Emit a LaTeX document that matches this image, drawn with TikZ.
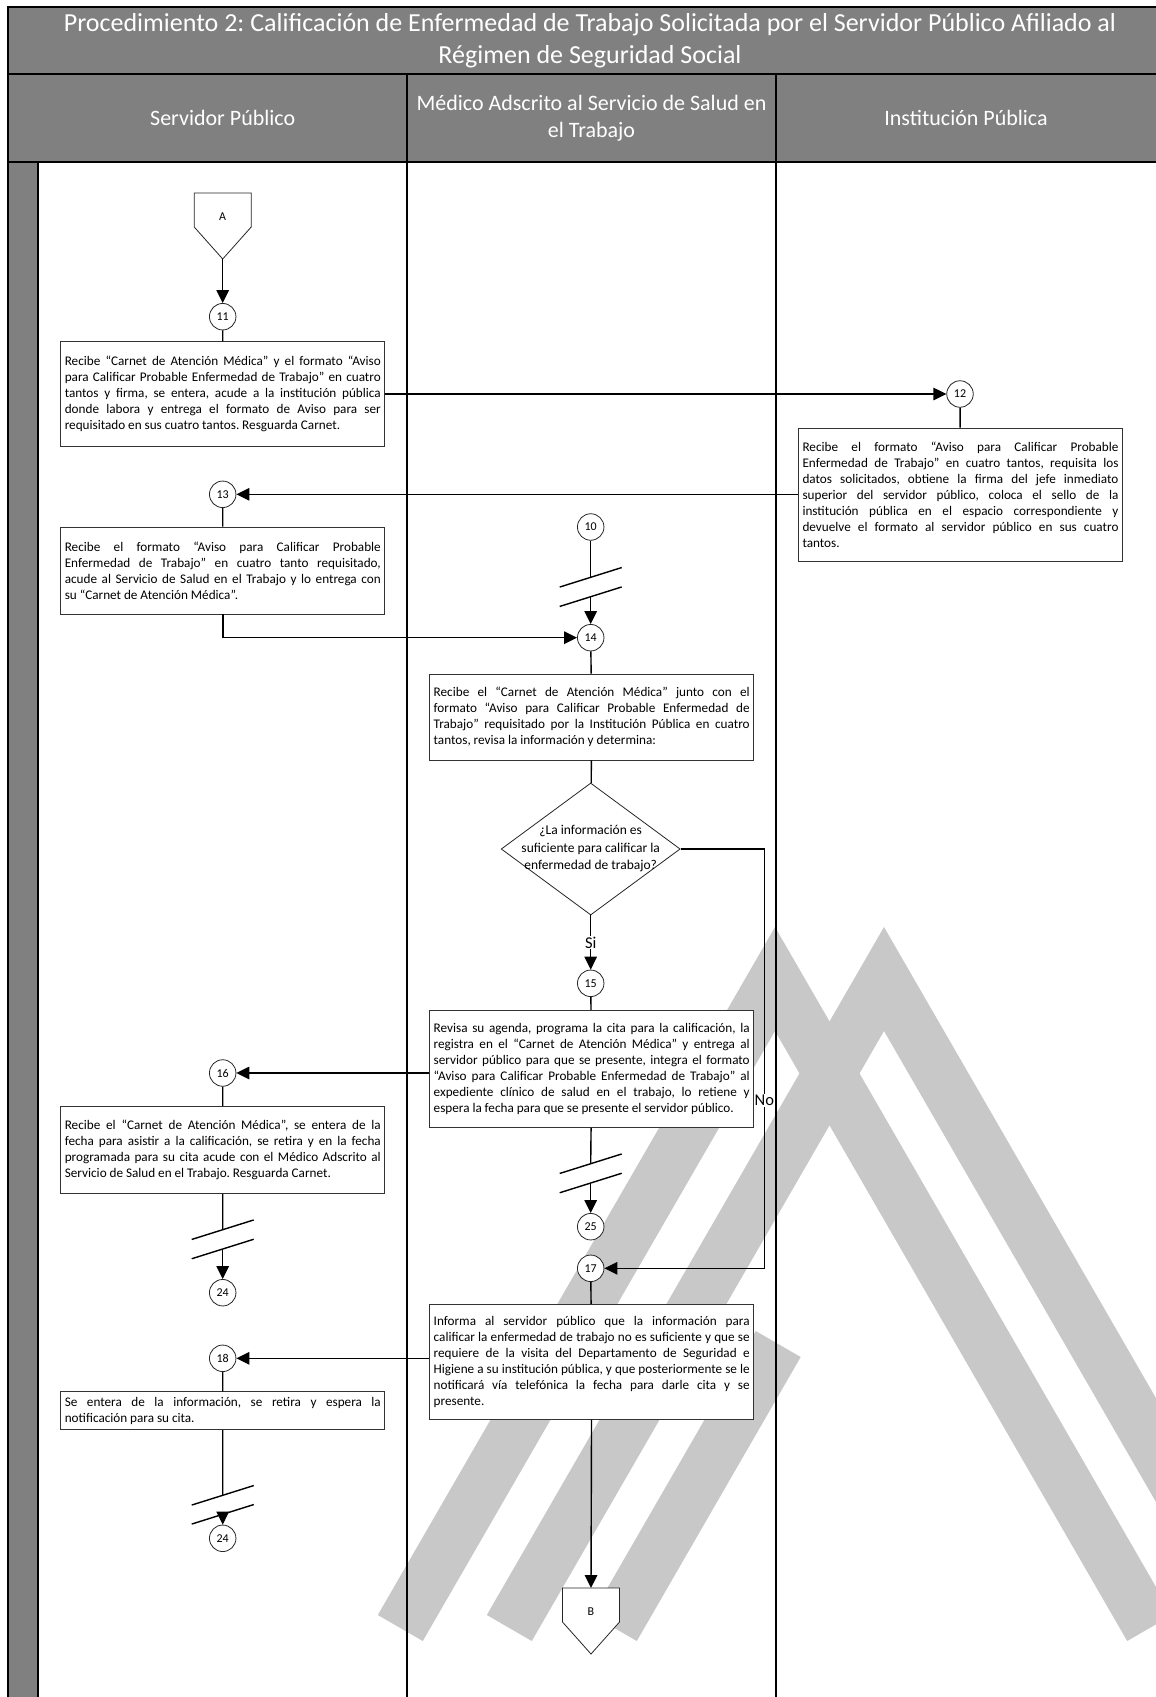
\documentclass[tikz,border=0pt]{standalone}
\usepackage{fontspec}
\setmainfont{Carlito}
\usetikzlibrary{arrows.meta,shapes.geometric,positioning}

\definecolor{lanegray}{RGB}{128,128,128}
\definecolor{markgray}{RGB}{200,200,200}

\hyphenpenalty=10000
\tolerance=10000
\frenchspacing

\tikzset{
  proc/.style={rectangle, draw=black!80, line width=0.8pt, fill=white, text width=316pt,
    inner xsep=4pt, inner ysep=3pt, font=\fontsize{13.2pt}{16pt}\selectfont,
    execute at begin node={\parindent=0pt\relax\leftskip=0pt\relax\rightskip=0pt\relax
      \parfillskip=0pt plus 1fil\relax\spaceskip=0.22em plus 0.5em minus 0.1em\relax}},
  conn/.style={circle, draw=black!85, line width=0.8pt, fill=white, minimum size=26.5pt,
    inner sep=0pt, font=\fontsize{12pt}{13pt}\selectfont},
  offpage/.style={draw=black!85, line width=0.8pt, fill=white},
  decision/.style={diamond, draw=black!85, line width=0.8pt, fill=white,
    minimum width=179pt, minimum height=132pt, inner sep=0pt},
  line/.style={line width=1.4pt},
  flow/.style={line width=1.4pt, -{Triangle[length=13pt,width=12.5pt]}},
  lane/.style={line width=2pt},
  answer/.style={fill=white, inner sep=1pt, font=\fontsize{16.5pt}{18pt}\selectfont},
  head/.style={white, align=center, font=\fontsize{22pt}{27pt}\selectfont},
}

\begin{document}
\begin{tikzpicture}[x=1pt, y=-1pt]
\useasboundingbox (0,0) rectangle (1156,1697);

% marca de agua
\fill[markgray] (775,927) -- (1172.2,1615) -- (1127.2,1641) -- (775,1031) -- (422.8,1641) -- (377.8,1615) -- cycle;
\fill[markgray] (884,927) -- (1281.2,1615) -- (1236.2,1641) -- (884,1031) -- (531.8,1641) -- (486.8,1615) -- cycle;
\fill[markgray] (755.7,1331) -- (800.7,1357) -- (636.8,1641) -- (591.8,1615) -- cycle;

% carriles
\draw[lane, fill=lanegray] (8,7) rectangle (1160,74);
\draw[lane, fill=lanegray] (8,74) rectangle (1160,162);
\draw[lane, fill=lanegray] (8,162) rectangle (38,1699);
\foreach \x in {407,776}
    \draw[lane] (\x,74) -- (\x,1699);

\node[white, align=center, font=\fontsize{26pt}{32pt}\selectfont] (title) at (590,40.5)
    {Procedimiento 2: Calificación de Enfermedad de Trabajo Solicitada por el Servidor Público Afiliado al\\Régimen de Seguridad Social};
\node[head] (hserv) at (222.7,118) {Servidor Público};
\node[head] (hmed) at (591.5,118) {Médico Adscrito al Servicio de Salud en\\el Trabajo};
\node[head] (hinst) at (966,118) {Institución Pública};

% conectores de pagina
\foreach \n/\x/\y in {A/222.7/193, B/591/1588} {
    \draw[offpage] (\x-28.5,\y) -- (\x+28.5,\y) -- (\x+28.5,\y+34) -- (\x,\y+66) -- (\x-28.5,\y+34) -- cycle;
    \node[font=\fontsize{12pt}{13pt}\selectfont] (\n) at (\x,\y+24) {\n};
    \coordinate (\n-top) at (\x,\y);
    \coordinate (\n-tip) at (\x,\y+66);
}

% conectores numerados
\foreach \nm/\t/\x/\y in {c11/11/222.7/316.7, c12/12/960/394, c13/13/222.7/494.3,
    c10/10/590.7/527, c14/14/590.7/637.7, c15/15/590.7/983.3, c16/16/222.7/1073,
    c25/25/590.7/1226.7, c17/17/590.7/1268.3, c24a/24/222.7/1292.7,
    c18/18/222.7/1358.3, c24b/24/222.7/1538.3}
    \node[conn] (\nm) at (\x,\y) {\t};

% actividades
\node[proc, minimum height=105pt] (box1) at (222.8,394.2) {Recibe “Carnet de Atención Médica” y el formato “Aviso\linebreak para Calificar Probable Enfermedad de Trabajo” en cuatro\linebreak tantos y firma, se entera, acude a la institución pública\linebreak donde labora y entrega el formato de Aviso para ser\linebreak requisitado en sus cuatro tantos. Resguarda Carnet.};
\node[proc, minimum height=133pt] (box12) at (960.5,494.5) {Recibe el formato “Aviso para Calificar Probable\linebreak Enfermedad de Trabajo” en cuatro tantos, requisita los\linebreak datos solicitados, obtiene la firma del jefe inmediato\linebreak superior del servidor público, coloca el sello de la\linebreak institución pública en el espacio correspondiente y\linebreak devuelve el formato al servidor público en sus cuatro\linebreak tantos.};
\node[proc, minimum height=87pt] (box13) at (222.8,570.5) {Recibe el formato “Aviso para Calificar Probable\linebreak Enfermedad de Trabajo” en cuatro tanto requisitado,\linebreak acude al Servicio de Salud en el Trabajo y lo entrega con\linebreak su “Carnet de Atención Médica”.};
\node[proc, minimum height=86pt] (box14) at (591.7,717) {Recibe el “Carnet de Atención Médica” junto con el\linebreak formato “Aviso para Calificar Probable Enfermedad de\linebreak Trabajo” requisitado por la Institución Pública en cuatro\linebreak tantos, revisa la información y determina:};
\node[decision] (dia) at (590.7,849) {};
\node[align=center, font=\fontsize{13.5pt}{17.5pt}\selectfont] (diatext) at (dia) {¿La información es\\suficiente para calificar la\\enfermedad de trabajo?};
\node[proc, minimum height=117pt] (box15) at (591.7,1069) {Revisa su agenda, programa la cita para la calificación, la\linebreak registra en el “Carnet de Atención Médica” y entrega al\linebreak servidor público para que se presente, integra el formato\linebreak “Aviso para Calificar Probable Enfermedad de Trabajo” al\linebreak expediente clínico de salud en el trabajo, lo retiene y\linebreak espera la fecha para que se presente el servidor público.};
\node[proc, minimum height=87pt] (box16) at (222.8,1150) {Recibe el “Carnet de Atención Médica”, se entera de la\linebreak fecha para asistir a la calificación, se retira y en la fecha\linebreak programada para su cita acude con el Médico Adscrito al\linebreak Servicio de Salud en el Trabajo. Resguarda Carnet.};
\node[proc, minimum height=115pt] (box17) at (591.7,1361.8) {Informa al servidor público que la información para\linebreak calificar la enfermedad de trabajo no es suficiente y que se\linebreak requiere de la visita del Departamento de Seguridad e\linebreak Higiene a su institución pública, y que posteriormente se le\linebreak notificará vía telefónica la fecha para darle cita y se\linebreak presente.};
\node[proc, minimum height=38pt] (box18) at (222.8,1410.8) {Se entera de la información, se retira y espera la\linebreak notificación para su cita.};

% cortes de flujo
\coordinate (b10-t) at (590.7,577.3);  \coordinate (b10-b) at (590.7,596.7);
\coordinate (b15-t) at (590.7,1163.7); \coordinate (b15-b) at (590.7,1183);
\coordinate (b16-t) at (222.7,1229.7); \coordinate (b16-b) at (222.7,1249);
\coordinate (b18-t) at (222.7,1495.3); \coordinate (b18-b) at (222.7,1514.3);
\foreach \b in {b10,b15,b16,b18} {
    \draw[line] ([shift={(-31,9.75)}]\b-t) -- ([shift={(31,-9.75)}]\b-t);
    \draw[line] ([shift={(-31,9.75)}]\b-b) -- ([shift={(31,-9.75)}]\b-b);
}
\coordinate (noturn) at (764.3,849);

% flujo
\draw[flow] (A-tip) -- (c11);
\draw[line] (c11) -- (box1);
\draw[flow] (box1.east |- c12) -- (c12);
\draw[line] (c12) -- (box12);
\draw[flow] (box12.west |- c13) -- (c13);
\draw[line] (c13) -- (box13);
\draw[flow] (box13.south) |- (c14);
\draw[line] (c10) -- (b10-t);
\draw[flow] (b10-b) -- (c14);
\draw[line] (c14) -- (box14);
\draw[line] (box14) -- (dia);
\draw[flow] (dia) -- node[answer] (si) {Si} (c15);
\draw[flow] (dia.east) -- (noturn) |- node[answer, pos=0.3] (no) {No} (c17);
\draw[line] (c15) -- (box15);
\draw[flow] (box15.west |- c16) -- (c16);
\draw[line] (c16) -- (box16);
\draw[line] (box16) -- (b16-t);
\draw[flow] (b16-b) -- (c24a);
\draw[line] (box15) -- (b15-t);
\draw[flow] (b15-b) -- (c25);
\draw[line] (c17) -- (box17);
\draw[flow] (box17.west |- c18) -- (c18);
\draw[line] (c18) -- (box18);
\draw[line] (box18) -- (b18-t);
\draw[flow] (b18-b) -- (c24b);
\draw[flow] (box17) -- (B-top);
\end{tikzpicture}
\end{document}
